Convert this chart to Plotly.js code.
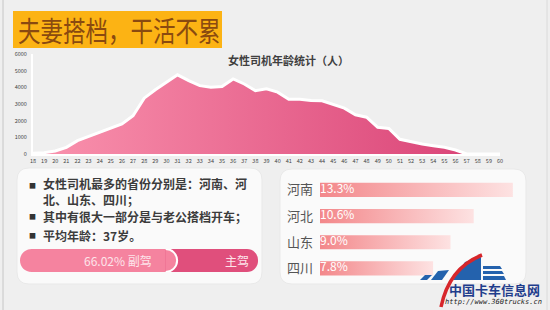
<!DOCTYPE html>
<html>
<head>
<meta charset="utf-8">
<script src="https://cdn.plot.ly/plotly-3.0.1.min.js"></script>
<style>
  html, body { margin: 0; padding: 0; background: #efefef; }
  #chart { width: 550px; height: 310px; }
</style>
</head>
<body>
<div id="chart"></div>
<script>
// ---------------- data ----------------
const ages = [18,19,20,21,22,23,24,25,26,27,28,29,30,31,32,33,34,35,36,37,38,39,
              40,41,42,43,44,45,46,47,48,49,50,51,52,53,54,55,56,57,58,59,60];
const counts = [50,80,180,400,800,1040,1280,1560,1800,2290,3350,3850,4300,4750,4400,4100,4000,4050,4500,4200,3800,3910,
                3710,3290,3290,3210,3190,2990,2750,2350,2210,1600,1530,880,720,600,500,400,240,0,0,0,0];
const yTicks = [0,1000,2000,3000,4000,5000,6000];

const provinces = ['河南','河北','山东','四川'];
const provShares = [13.3, 10.6, 9.0, 7.8];

const seatLabels = ['副驾','主驾'];
const seatShares = [66.02, 33.98];

const headline = '夫妻搭档，干活不累';
const chartTitle = '女性司机年龄统计（人）';
const bulletItems = [
  '女性司机最多的省份分别是：河南、河<br>北、山东、四川；',
  '其中有很大一部分是与老公搭档开车；',
  '平均年龄：37岁。'
];

// ---------------- helpers ----------------
const W = 550, H = 310;
const px = x => x / W;
const py = y => 1 - y / H;
const FONT = '"Noto Sans CJK SC", "Noto Sans", sans-serif';

function rrect(x0, y0, x1, y1, r) {
  return `M${px(x0 + r)},${py(y0)} L${px(x1 - r)},${py(y0)} Q${px(x1)},${py(y0)} ${px(x1)},${py(y0 + r)} ` +
         `L${px(x1)},${py(y1 - r)} Q${px(x1)},${py(y1)} ${px(x1 - r)},${py(y1)} ` +
         `L${px(x0 + r)},${py(y1)} Q${px(x0)},${py(y1)} ${px(x0)},${py(y1 - r)} ` +
         `L${px(x0)},${py(y0 + r)} Q${px(x0)},${py(y0)} ${px(x0 + r)},${py(y0)} Z`;
}
function poly(pts) {
  return 'M' + pts.map(p => `${px(p[0])},${py(p[1])}`).join(' L') + ' Z';
}
// mask that turns the square left end of a bar (x0, y0..y1) into a half circle
function leftCapMask(x0, y0, y1) {
  const r = (y1 - y0) / 2, k = 0.5523 * r, ym = y0 + r;
  return `M${px(x0 - 0.5)},${py(y0 - 0.5)} L${px(x0 + r)},${py(y0 - 0.5)} L${px(x0 + r)},${py(y0)} ` +
         `C${px(x0 + r - k)},${py(y0)} ${px(x0)},${py(ym - k)} ${px(x0)},${py(ym)} ` +
         `C${px(x0)},${py(ym + k)} ${px(x0 + r - k)},${py(y1)} ${px(x0 + r)},${py(y1)} ` +
         `L${px(x0 + r)},${py(y1 + 0.5)} L${px(x0 - 0.5)},${py(y1 + 0.5)} Z`;
}

// ---------------- geometry ----------------
const PILL = { x0: 20, x1: 258, y0: 249, y1: 272 };
const total = seatShares[0] + seatShares[1];
const unitsPerPx = total / (PILL.x1 - PILL.x0);
const capR = (PILL.y1 - PILL.y0) / 2 * unitsPerPx;   // cap radius in x2 units
const k = 0.5523;

// ---------------- traces ----------------
const traces = [];

// area chart
traces.push({
  type: 'scatter', x: ages, y: counts, mode: 'lines',
  line: { color: '#ffffff', width: 3 },
  fill: 'tozeroy',
  fillgradient: { type: 'horizontal', colorscale: [[0, '#fa93ae'], [1, '#d83f74']] },
  hoverinfo: 'skip', xaxis: 'x', yaxis: 'y', cliponaxis: false
});

// pill bar (seat split)
traces.push({ type: 'bar', orientation: 'h', y: [0], x: [total],
  width: 1, marker: { color: '#e04f7c', cornerradius: '50%' }, xaxis: 'x2', yaxis: 'y2', hoverinfo: 'skip' });
traces.push({ type: 'bar', orientation: 'h', y: [0], x: [seatShares[0] - capR],
  width: 1, marker: { color: '#f5839f', line: { width: 0 } }, xaxis: 'x2', yaxis: 'y2', hoverinfo: 'skip' });

// province bars with gradient
const hb = 0.27;
provShares.forEach((v, i) => {
  traces.push({
    type: 'scatter', mode: 'lines',
    x: [0, v, v, 0, 0], y: [i - hb, i - hb, i + hb, i + hb, i - hb],
    line: { width: 0, color: 'rgba(0,0,0,0)' },
    fill: 'toself',
    fillgradient: { type: 'horizontal', colorscale: [[0, '#f3878a'], [1, '#fde2e2']] },
    xaxis: 'x3', yaxis: 'y3', hoverinfo: 'skip'
  });
});
traces.push({
  type: 'scatter', mode: 'text',
  x: provShares.map(() => 0), y: provinces.map((p, i) => i),
  text: provShares.map(v => v.toFixed(1) + '%'),
  textposition: 'middle right',
  textfont: { family: FONT, size: 12, color: '#ffffff' },
  xaxis: 'x3', yaxis: 'y3', hoverinfo: 'skip'
});

// ---------------- layout ----------------
const sx = seatShares[0] - capR;   // start of the rounded cap of the 副驾 part
const capPath = `M${sx},-0.5 C${sx + capR * k},-0.5 ${sx + capR},${-0.5 * k} ${sx + capR},0 ` +
                `C${sx + capR},${0.5 * k} ${sx + capR * k},0.5 ${sx},0.5 Z`;
const capEdge = `M${sx},-0.5 C${sx + capR * k},-0.5 ${sx + capR},${-0.5 * k} ${sx + capR},0 ` +
                `C${sx + capR},${0.5 * k} ${sx + capR * k},0.5 ${sx},0.5`;

const shapes = [
  // frame lines
  { type: 'line', xref: 'paper', yref: 'paper', x0: px(3), x1: px(3), y0: 0, y1: 1, line: { color: '#c6c6c6', width: 1 }, layer: 'below' },
  { type: 'line', xref: 'paper', yref: 'paper', x0: px(547), x1: px(547), y0: 0, y1: 1, line: { color: '#dadada', width: 1 }, layer: 'below' },
  // headline banner
  { type: 'rect', xref: 'paper', yref: 'paper', x0: px(13), x1: px(222), y0: py(48), y1: py(11),
    fillcolor: '#fcb314', line: { width: 0 }, layer: 'below' },
  // panels
  { type: 'path', xref: 'paper', yref: 'paper', path: rrect(17, 168, 262, 284, 12),
    fillcolor: '#fafafa', line: { color: '#e9e9e9', width: 1 }, layer: 'below' },
  { type: 'path', xref: 'paper', yref: 'paper', path: rrect(280, 169, 526, 284, 12),
    fillcolor: '#fafafa', line: { color: '#e9e9e9', width: 1 }, layer: 'below' },
  // rounded end of the 副驾 part with white rim
  { type: 'path', xref: 'x2', yref: 'y2', path: capPath, fillcolor: '#f5839f', line: { width: 0 }, layer: 'above' },
  { type: 'path', xref: 'x2', yref: 'y2', path: capEdge, line: { color: '#ffffff', width: 2 }, layer: 'above' },
  // round the left end of the pill
  { type: 'path', xref: 'paper', yref: 'paper', path: leftCapMask(PILL.x0, PILL.y0, PILL.y1),
    fillcolor: '#fafafa', line: { width: 0 }, layer: 'above' },
  // watermark logo
  { type: 'path', xref: 'paper', yref: 'paper', path: poly([[420, 280], [425, 275], [432, 275], [427, 280]]),
    fillcolor: '#2462ad', line: { width: 0 }, layer: 'above' },
  { type: 'path', xref: 'paper', yref: 'paper', path: poly([[431, 280], [438, 271], [449, 270], [442, 280]]),
    fillcolor: '#2462ad', line: { width: 0 }, layer: 'above' },
  { type: 'path', xref: 'paper', yref: 'paper', path: poly([[453, 280], [465, 262], [481, 257], [481, 280]]),
    fillcolor: '#2462ad', line: { width: 0 }, layer: 'above' },
  { type: 'path', xref: 'paper', yref: 'paper', path: poly([[483, 266], [500, 266], [502, 269], [483, 269]]),
    fillcolor: '#2462ad', line: { width: 0 }, layer: 'above' },
  { type: 'path', xref: 'paper', yref: 'paper', path: poly([[483, 271], [502, 271], [504, 274], [483, 274]]),
    fillcolor: '#2462ad', line: { width: 0 }, layer: 'above' },
  { type: 'path', xref: 'paper', yref: 'paper', path: poly([[483, 276], [504, 276], [506, 280], [483, 280]]),
    fillcolor: '#2462ad', line: { width: 0 }, layer: 'above' },
  { type: 'path', xref: 'paper', yref: 'paper',
    path: `M${px(441)},${py(307)} Q${px(449)},${py(268)} ${px(482)},${py(255)}`,
    line: { color: '#d7262b', width: 3.5 }, layer: 'above' }
];

const annotations = [
  { xref: 'paper', yref: 'paper', x: px(119), y: py(29), text: headline, showarrow: false,
    xanchor: 'center', yanchor: 'middle', font: { family: FONT, size: 22.5, color: '#8a4a10' } },
  { xref: 'paper', yref: 'paper', x: px(288), y: py(60), text: '<b>' + chartTitle + '</b>', showarrow: false,
    xanchor: 'center', yanchor: 'middle', font: { family: FONT, size: 11, color: '#404040' } },
  // pill labels
  { xref: 'x2', yref: 'y2', x: 41, y: 0, text: seatShares[0].toFixed(2) + '% ' + seatLabels[0], showarrow: false,
    xanchor: 'center', yanchor: 'middle', font: { family: FONT, size: 12, color: '#fde4ea' } },
  { xref: 'x2', yref: 'y2', x: 91, y: 0, text: seatLabels[1], showarrow: false,
    xanchor: 'center', yanchor: 'middle', font: { family: FONT, size: 12, color: '#fde4ea' } },
  // watermark text
  { xref: 'paper', yref: 'paper', x: px(494), y: py(289), text: '<b>中国卡车信息网</b>', showarrow: false,
    xanchor: 'center', yanchor: 'middle', font: { family: FONT, size: 13, color: '#1f3d8c' } },
  { xref: 'paper', yref: 'paper', x: px(493), y: py(302), text: '<i>http://www.360trucks.cn</i>', showarrow: false,
    xanchor: 'center', yanchor: 'middle', font: { family: '"DejaVu Sans Mono", monospace', size: 7, color: '#222' } }
];
const itemYs = [191, 216, 235];
const bulletYs = [185, 216, 235];
bulletItems.forEach((t, i) => {
  annotations.push({ xref: 'paper', yref: 'paper', x: px(32), y: py(bulletYs[i]), text: '■', showarrow: false,
    xanchor: 'center', yanchor: 'middle', font: { family: FONT, size: 7, color: '#333' } });
  annotations.push({ xref: 'paper', yref: 'paper', x: px(41), y: py(itemYs[i]), text: '<b>' + t + '</b>', showarrow: false,
    xanchor: 'left', yanchor: 'middle', align: 'left', font: { family: FONT, size: 12, color: '#3c3c3c' } });
});

const layout = {
  width: W, height: H,
  margin: { l: 0, r: 0, t: 0, b: 0 },
  paper_bgcolor: '#efefef', plot_bgcolor: 'rgba(0,0,0,0)',
  showlegend: false, barmode: 'overlay',
  font: { family: FONT },
  xaxis: { domain: [px(33), px(500)], range: [18, 60], tickvals: ages, ticktext: ages.map(String),
    tickfont: { size: 5.5, color: '#444' }, showgrid: false, zeroline: false,
    showline: true, linecolor: '#ffffff', linewidth: 2, ticks: '', anchor: 'y', fixedrange: true },
  yaxis: { domain: [py(154), py(54)], range: [0, 6000], tickvals: yTicks,
    tickfont: { size: 5.5, color: '#444' }, showgrid: false, zeroline: false,
    showline: true, linecolor: '#ffffff', linewidth: 2, ticks: '', ticklabelstandoff: 3, anchor: 'x', fixedrange: true },
  xaxis2: { domain: [px(PILL.x0), px(PILL.x1)], range: [0, total], visible: false, anchor: 'y2', fixedrange: true },
  yaxis2: { domain: [py(PILL.y1), py(PILL.y0)], range: [-0.5, 0.5], visible: false, anchor: 'x2', fixedrange: true },
  xaxis3: { domain: [px(320), px(320 + 14 * 14.5)], range: [0, 14], visible: false, anchor: 'y3', fixedrange: true },
  yaxis3: { domain: [py(281.5), py(176.8)], range: [3.5, -0.5], tickvals: [0, 1, 2, 3], ticktext: provinces,
    tickfont: { family: FONT, size: 13, color: '#555' }, showgrid: false, zeroline: false, showline: false,
    ticks: '', ticklabelstandoff: 6, anchor: 'x3', fixedrange: true },
  shapes: shapes,
  annotations: annotations
};

Plotly.newPlot('chart', traces, layout, { displayModeBar: false, staticPlot: true }).then(gd => {
  // make the headline glyphs tall and narrow like the original display font
  gd.querySelectorAll('.annotation-text').forEach(el => {
    if (el.textContent === headline) {
      el.style.transformBox = 'fill-box';
      el.style.transformOrigin = 'center';
      el.style.transform = 'scaleY(1.25)';
    }
  });
});
</script>
</body>
</html>
